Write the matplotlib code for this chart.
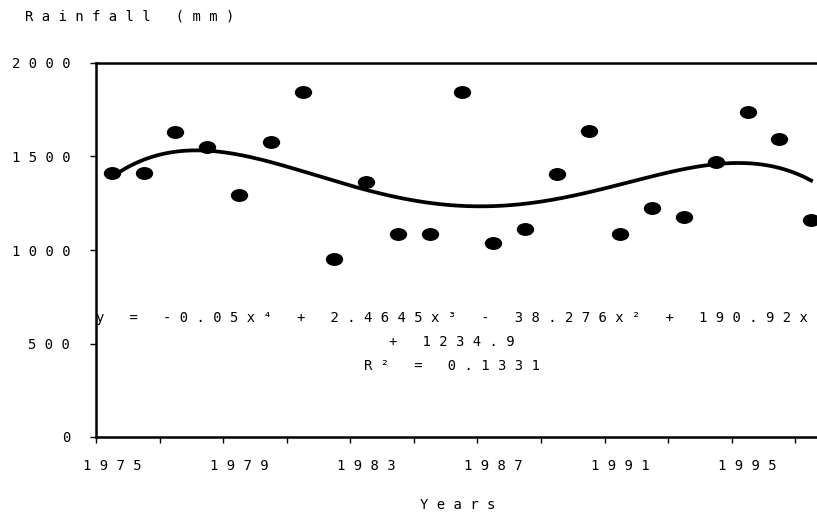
import numpy as np
import matplotlib
matplotlib.use("Agg")
import matplotlib.pyplot as plt
from matplotlib.path import Path
from matplotlib.transforms import Affine2D

# annual rainfall
years = list(range(1975, 1998))
rainfall = [1411, 1411, 1629, 1550, 1292, 1577, 1845, 953, 1363, 1086,
            1086, 1845, 1037, 1112, 1408, 1638, 1085, 1224, 1179, 1468,
            1736, 1595, 1158]

# 4th order trend line as printed on the chart (x = 1, 2, 3 ...)
trend_coef = [-0.05, 2.4645, -38.276, 190.92, 1234.9]
r_squared = 0.1331

label_years = [1975, 1979, 1983, 1987, 1991, 1995]
y_ticks = [0, 500, 1000, 1500, 2000]

FONT = ["DejaVu Sans Mono", "DejaVu Sans"]
FS = 10


def spaced(s):
    # the old chart has wide letter spacing
    return " ".join(s)


fig = plt.figure(figsize=(8.17, 5.17), dpi=100)
W, H = 817, 517
ax = fig.add_axes([96 / W, 1 - 437 / H, 731 / W, 374 / H])

n = len(years)
xpos = np.arange(n)

# trend line
xs = np.linspace(1, n, 400)
ax.plot(xs - 1, np.polyval(trend_coef, xs), color="black", lw=2.7, zorder=2)

# points (slightly flat ellipses)
ell = Path.unit_circle().transformed(Affine2D().scale(1.0, 0.72))
ax.plot(xpos, rainfall, linestyle="none", marker=ell, markersize=11.5,
        color="black", zorder=3)

ax.set_xlim(-0.5, n - 0.5)
ax.set_ylim(0, 2000)

# category axis: ticks between every 2 categories, labels every 4 years
ax.set_xticks(np.arange(-0.5, n, 2))
ax.set_xticklabels([])
ax.set_xticks([years.index(y) for y in label_years], minor=True)
ax.set_xticklabels([spaced(str(y)) for y in label_years], minor=True,
                   fontfamily=FONT, fontsize=FS)
ax.tick_params(axis="x", which="major", direction="out", length=4.5, width=1)
ax.tick_params(axis="x", which="minor", length=0, pad=16)

ax.set_yticks(y_ticks)
ax.set_yticklabels([spaced(str(v)) for v in y_ticks], fontfamily=FONT,
                   fontsize=FS)
ax.tick_params(axis="y", direction="out", length=4.5, width=1, pad=14)

for side in ["left", "bottom", "top"]:
    ax.spines[side].set_linewidth(1.8)
ax.spines["right"].set_visible(False)

eq = "y = -0.05x\u2074 + 2.4645x\u00b3 - 38.276x\u00b2 + 190.92x"
eq_text = spaced(eq) + "\n" + spaced("+ 1234.9") + "\n" + spaced("R\u00b2 = %.4f" % r_squared)
fig.text(452 / W, 1 - 342 / H, eq_text, ha="center", va="center",
         multialignment="center", linespacing=1.9,
         fontfamily=FONT, fontsize=FS)

fig.text(25 / W, 1 - 17 / H, spaced("Rainfall (mm)"), ha="left", va="center",
         fontfamily=FONT, fontsize=FS)
fig.text(458 / W, 1 - 505 / H, spaced("Years"), ha="center", va="center",
         fontfamily=FONT, fontsize=FS)

fig.savefig("out.png", dpi=100)
